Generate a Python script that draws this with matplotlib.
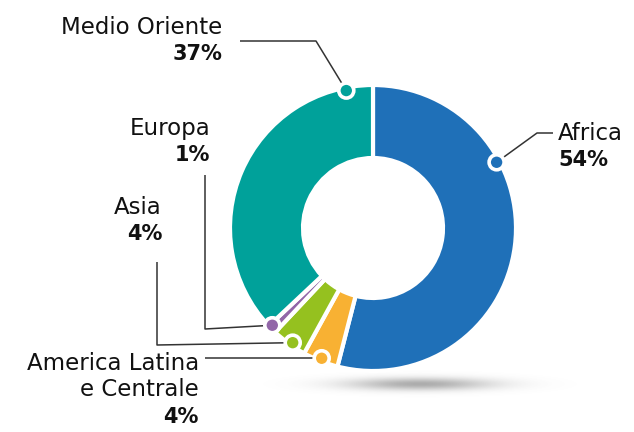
import numpy as np
import matplotlib.pyplot as plt
from matplotlib.patches import Circle

# data
regions = ["Africa", "America Latina\ne Centrale", "Asia", "Europa", "Medio Oriente"]
shares = [54, 4, 4, 1, 37]
share_labels = ["54%", "4%", "4%", "1%", "37%"]
colors = ["#1f70b8", "#f8b133", "#95c11f", "#9266a8", "#00a19a"]

W, H = 634, 432
fig = plt.figure(figsize=(W / 100, H / 100), dpi=100)
ax = fig.add_axes([0, 0, 1, 1])

def Y(y):
    # pixel row -> data y
    return H - y

cx, cy = 373, Y(228)
R, ring = 143, 73

# soft shadow under the donut
gx = np.linspace(-1, 1, 300)
gy = np.linspace(-1, 1, 80)
GX, GY = np.meshgrid(gx, gy)
alpha = np.exp(-GX**2 / 0.2 - GY**2 / 0.12) * 0.5
img = np.zeros((80, 300, 4))
img[..., :3] = 0.35
img[..., 3] = alpha
ax.imshow(img, extent=(260, 580, Y(402), Y(366)), zorder=0, interpolation='bilinear')

ax.pie(shares, colors=colors, startangle=90, counterclock=False,
       center=(cx, cy), radius=R,
       wedgeprops=dict(width=ring, edgecolor='white', linewidth=3))

ax.set_xlim(0, W)
ax.set_ylim(0, H)
ax.set_aspect('equal')
ax.axis('off')

# leader layout: dot angle, elbow points (pixels, None = keep dot's y), text anchor, alignment
leaders = [
    (28, [(537, 133), (553, 133)], (558, 133), 'left'),
    (248.5, [(205, None)], (199, 363), 'right'),
    (235, [(157, 345), (157, 262)], (162, 207), 'right'),
    (224, [(205, 329), (205, 175)], (210, 128), 'right'),
    (101, [(316, 41), (240, 41)], (222, 27), 'right'),
]

for name, lab, col, (ang, pts, (tx, ty), ha) in zip(regions, share_labels, colors, leaders):
    a = np.deg2rad(ang)
    dx, dy = cx + (R - 3) * np.cos(a), cy + (R - 3) * np.sin(a)
    xs = [dx] + [p[0] for p in pts]
    ys = [dy] + [dy if p[1] is None else Y(p[1]) for p in pts]
    ax.plot(xs, ys, color='#333333', lw=1.1, zorder=3, solid_capstyle='butt')
    ax.add_patch(Circle((dx, dy), 7.5, facecolor=col, edgecolor='white', lw=2.6, zorder=4))
    lines = name.split('\n')
    for i, ln in enumerate(lines):
        ax.text(tx, Y(ty + 27 * i), ln, ha=ha, va='center', fontsize=16.5, color='#111111')
    ax.text(tx, Y(ty + 27 * len(lines)), lab, ha=ha, va='center', fontsize=15,
            fontweight='bold', color='#111111')

fig.savefig('out.png', dpi=100)
